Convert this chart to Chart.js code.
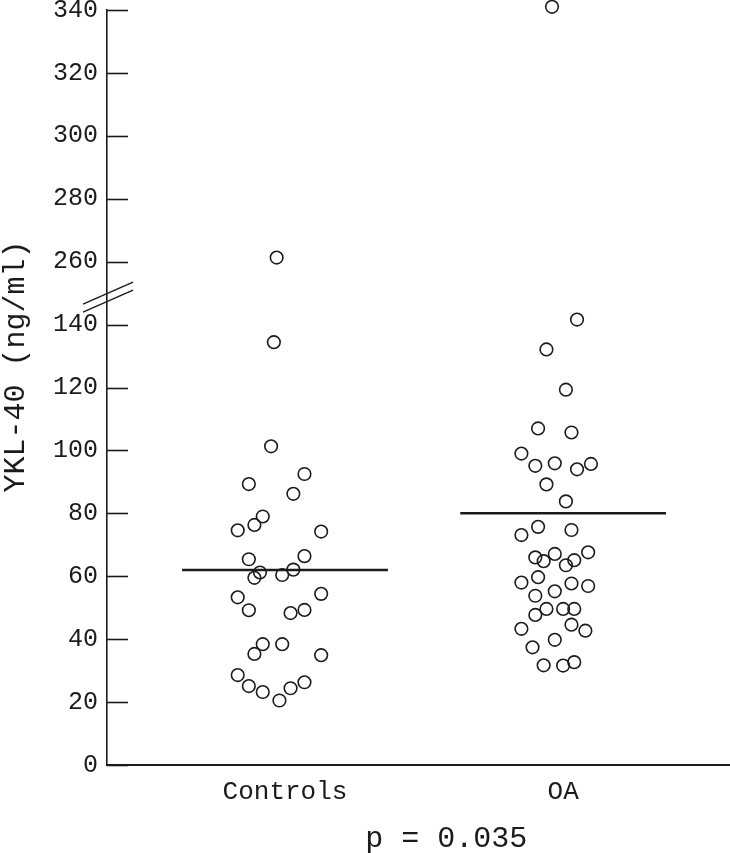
<!DOCTYPE html>
<html>
<head>
<meta charset="utf-8">
<script src="https://cdn.jsdelivr.net/npm/chart.js@4/dist/chart.umd.min.js"></script>
<style>
  html, body { margin: 0; padding: 0; overflow: hidden; background: #fff; }
  #wrap { width: 730px; height: 853px; }
</style>
</head>
<body>
<div id="wrap"><canvas id="ykl"></canvas></div>
<script>
// groups on the x axis
const groups = ["Controls", "OA"];

// YKL-40 (ng/ml) per subject
const controlsValues = [261.3, 134.4, 101.3, 92.5, 89.3, 86.2, 79.0, 76.3, 74.6, 74.2,
  65.4, 66.4, 61.2, 59.5, 60.4, 62.1, 53.3, 54.4, 49.2, 48.3, 49.3,
  38.4, 38.4, 35.3, 34.9, 28.6, 25.1, 23.2, 24.4, 26.3, 20.5];
// horizontal scatter of each dot, in fractions of the group spacing
const controlsJitter = [-0.03, -0.04, -0.05, 0.07, -0.13, 0.03, -0.08, -0.11, -0.17, 0.13,
  -0.13, 0.07, -0.09, -0.11, -0.01, 0.03, -0.17, 0.13, -0.13, 0.02, 0.07,
  -0.08, -0.01, -0.11, 0.13, -0.17, -0.13, -0.08, 0.02, 0.07, -0.02];

const oaValues = [341, 141.6, 132.1, 119.3, 107, 105.7, 99.0, 95.1, 95.9, 94.0, 95.7,
  89.2, 83.8, 73.1, 75.7, 74.7, 66.0, 67.1, 64.8, 63.5, 65.1, 67.6,
  58.0, 59.7, 53.8, 55.2, 57.7, 56.9, 47.7, 49.6, 49.6, 49.6,
  43.3, 44.6, 42.7, 39.8, 37.4, 31.7, 31.6, 32.7];
const oaJitter = [-0.04, 0.05, -0.06, 0.01, -0.09, 0.03, -0.15, -0.10, -0.03, 0.05, 0.10,
  -0.06, 0.01, -0.15, -0.09, 0.03, -0.10, -0.03, -0.07, 0.01, 0.04, 0.09,
  -0.15, -0.09, -0.10, -0.03, 0.03, 0.09, -0.10, -0.06, 0.00, 0.04,
  -0.15, 0.03, 0.08, -0.03, -0.11, -0.07, 0.00, 0.04];

// horizontal bars
const groupMeans = [62, 80];

const yTickLabels = [0, 20, 40, 60, 80, 100, 120, 140, 260, 280, 300, 320, 340];
const yTitle = "YKL-40 (ng/ml)";
const pValueText = "p = 0.035";

// axis break: 140 -> 260 squeezed into one tick step
const breakLow = 140, breakHigh = 260, breakStep = 20;
const gap = breakHigh - breakLow - breakStep;
const toPlot = v => (v >= breakHigh - breakStep / 2 ? v - gap : v);
const fromPlot = v => (v > breakLow + breakStep / 2 ? v + gap : v);

const ink = "#1b1b1b";
const mono = "'Liberation Mono', 'DejaVu Sans Mono', monospace";

function dots(values, jitter, g) {
  return values.map((v, i) => ({ x: g + 1 + jitter[i], y: toPlot(v) }));
}

const meanHalf = 0.37;
const meanSets = groupMeans.map((m, g) => ({
  type: "line",
  data: [{ x: g + 1 - meanHalf, y: m }, { x: g + 1 + meanHalf, y: m }],
  borderColor: ink,
  borderWidth: 2.5,
  pointRadius: 0,
  fill: false,
}));

const dotStyle = {
  pointStyle: "circle",
  pointRadius: 6.3,
  borderWidth: 1.6,
  borderColor: ink,
  backgroundColor: "rgba(0,0,0,0)",
  clip: false,
};

const noPad = s => { s.paddingTop = 0; s.paddingBottom = 0; s.paddingLeft = 0; s.paddingRight = 0; };

// inward y ticks, the // break mark, the y title and the p value
const axisExtras = {
  id: "axisExtras",
  afterDraw(chart) {
    const ctx = chart.ctx;
    const y = chart.scales.y;
    const x = chart.scales.x;
    const left = chart.chartArea.left;
    ctx.save();
    ctx.strokeStyle = ink;
    ctx.lineWidth = 1.6;
    y.ticks.forEach(t => {
      const py = Math.round(y.getPixelForValue(t.value)) + 0.5;
      ctx.beginPath();
      ctx.moveTo(left, py);
      ctx.lineTo(left + 21, py);
      ctx.stroke();
    });
    const by = y.getPixelForValue(breakLow + breakStep / 2) + 4;
    ctx.lineWidth = 1.4;
    [-4, 4].forEach(off => {
      ctx.beginPath();
      ctx.moveTo(left - 24, by + off + 11);
      ctx.lineTo(left + 26, by + off - 11);
      ctx.stroke();
    });

    ctx.fillStyle = ink;
    ctx.font = "30px " + mono;
    ctx.textAlign = "center";
    ctx.textBaseline = "alphabetic";
    ctx.fillText(pValueText, x.getPixelForValue(1.58), 847);

    ctx.translate(16, (y.top + y.bottom) / 2 - 21);
    ctx.rotate(-Math.PI / 2);
    ctx.textBaseline = "middle";
    ctx.fillText(yTitle, 0, 0);
    ctx.restore();
  },
};

new Chart(document.getElementById("ykl").getContext("2d"), {
  type: "scatter",
  data: {
    datasets: [
      { label: groups[0], data: dots(controlsValues, controlsJitter, 0), ...dotStyle },
      { label: groups[1], data: dots(oaValues, oaJitter, 1), ...dotStyle },
      ...meanSets,
    ],
  },
  options: {
    responsive: true,
    maintainAspectRatio: false,
    animation: false,
    layout: { autoPadding: false, padding: { top: 10, right: 0, bottom: 0, left: 0 } },
    plugins: { legend: { display: false }, tooltip: { enabled: false } },
    scales: {
      x: {
        type: "linear",
        min: 0.36,
        max: 2.6,
        afterBuildTicks: s => { s.ticks = groups.map((_, i) => ({ value: i + 1 })); },
        afterFit: s => { s.height = 88; noPad(s); },
        grid: { display: false, drawTicks: false },
        border: { display: true, color: ink, width: 2 },
        ticks: {
          color: ink,
          font: { family: mono, size: 26 },
          padding: 12,
          maxRotation: 0,
          callback: v => groups[v - 1],
        },
      },
      y: {
        type: "linear",
        min: 0,
        max: toPlot(340),
        afterBuildTicks: s => { s.ticks = yTickLabels.map(v => ({ value: toPlot(v) })); },
        afterFit: s => { s.width = 107; noPad(s); },
        grid: { display: false, drawTicks: false },
        border: { display: true, color: ink, width: 1.6 },
        ticks: {
          color: ink,
          font: { family: mono, size: 25 },
          padding: 9,
          callback: v => String(fromPlot(v)),
        },
      },
    },
  },
  plugins: [axisExtras],
});
</script>
</body>
</html>
